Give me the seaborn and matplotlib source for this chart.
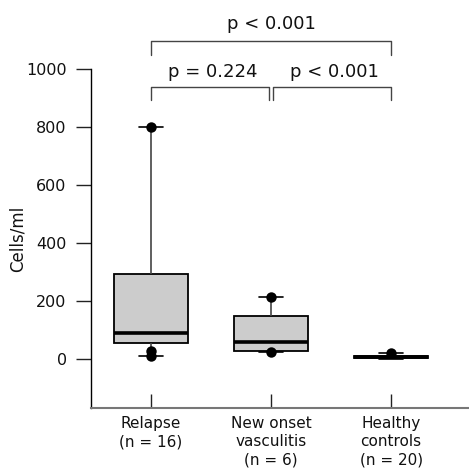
import numpy as np
import pandas as pd
import matplotlib
matplotlib.use("Agg")
import matplotlib.pyplot as plt
import seaborn as sns

# ---- data ----
categories = ["Relapse\n(n = 16)", "New onset\nvasculitis\n(n = 6)", "Healthy\ncontrols\n(n = 20)"]
relapse = [12, 28, 32, 50, 57, 65, 75, 85, 95, 130, 200, 290, 310, 500, 780, 800]
new_onset = [24, 27, 32, 88, 168, 215]
healthy = [2, 3, 4, 5, 5, 6, 6, 7, 7, 7, 8, 8, 9, 9, 10, 10, 11, 12, 14, 20]
# points marked with dots (extreme values)
marked_relapse = [800, 28, 12]
marked_new_onset = [215, 24]
marked_healthy = [20]
p_labels = ["p = 0.224", "p < 0.001", "p < 0.001"]
y_ticks = [0, 200, 400, 600, 800, 1000]

df = pd.DataFrame({
    "group": [categories[0]] * len(relapse) + [categories[1]] * len(new_onset) + [categories[2]] * len(healthy),
    "cells": relapse + new_onset + healthy,
})
dots = pd.DataFrame({
    "group": [categories[0]] * len(marked_relapse) + [categories[1]] * len(marked_new_onset) + [categories[2]] * len(marked_healthy),
    "cells": marked_relapse + marked_new_onset + marked_healthy,
})

sns.set_theme(style="white")
plt.rcParams["font.family"] = ["DejaVu Sans"]

fig = plt.figure(figsize=(4.69, 4.74), dpi=100)
ax = fig.add_axes([91 / 469, 66 / 474, 377 / 469, 403 / 474])

sns.boxplot(data=df, x="group", y="cells", order=categories, ax=ax,
            whis=(0, 100), showfliers=False, width=0.62, capwidths=0.2,
            boxprops=dict(facecolor="#cccccc", edgecolor="black", linewidth=1.3),
            medianprops=dict(color="black", linewidth=2.6),
            whiskerprops=dict(color="#444444", linewidth=1.2),
            capprops=dict(color="black", linewidth=1.2))
sns.stripplot(data=dots, x="group", y="cells", order=categories, ax=ax,
              jitter=False, color="black", size=7.5, zorder=5)

ax.set_xlim(-0.5, 2.64)
ax.set_ylim(-168, 1222)
ax.set_yticks(y_ticks)
ax.set_yticklabels([str(t) for t in y_ticks], fontsize=11.5, color="#111111")
ax.set_xticks(range(len(categories)))
ax.set_xticklabels(categories, fontsize=11, color="#111111", linespacing=1.25)
ax.set_xlabel("")
ax.set_ylabel("Cells/ml", fontsize=12, color="#111111")
ax.yaxis.set_label_coords(-0.172, 0.42)

for s in ["top", "right"]:
    ax.spines[s].set_visible(False)
ax.spines["left"].set_bounds(-168, 1000)
ax.spines["left"].set_color("black")
ax.spines["left"].set_linewidth(1.0)
ax.spines["bottom"].set_color("#777777")
ax.spines["bottom"].set_linewidth(1.5)
ax.tick_params(axis="y", direction="out", length=11, width=1, color="#222222", pad=6.5, left=True)
ax.tick_params(axis="x", direction="in", length=10, width=1, color="#222222", pad=6, bottom=True)

# significance brackets
lc = "#444444"
def bracket(x0, x1, y, drop, text, tx, off):
    ax.plot([x0, x0, x1, x1], [y - drop, y, y, y - drop], color=lc, lw=1.0, clip_on=False)
    ax.text(tx, y + off, text, ha="center", va="baseline", fontsize=13, color="#111111")

bracket(0, 0.983, 939, 45, p_labels[0], 0.51, 36)
bracket(1.017, 2, 939, 45, p_labels[1], 1.53, 36)
bracket(0, 2, 1099, 49, p_labels[2], 1.0, 41)

fig.savefig("out.png", dpi=100)
